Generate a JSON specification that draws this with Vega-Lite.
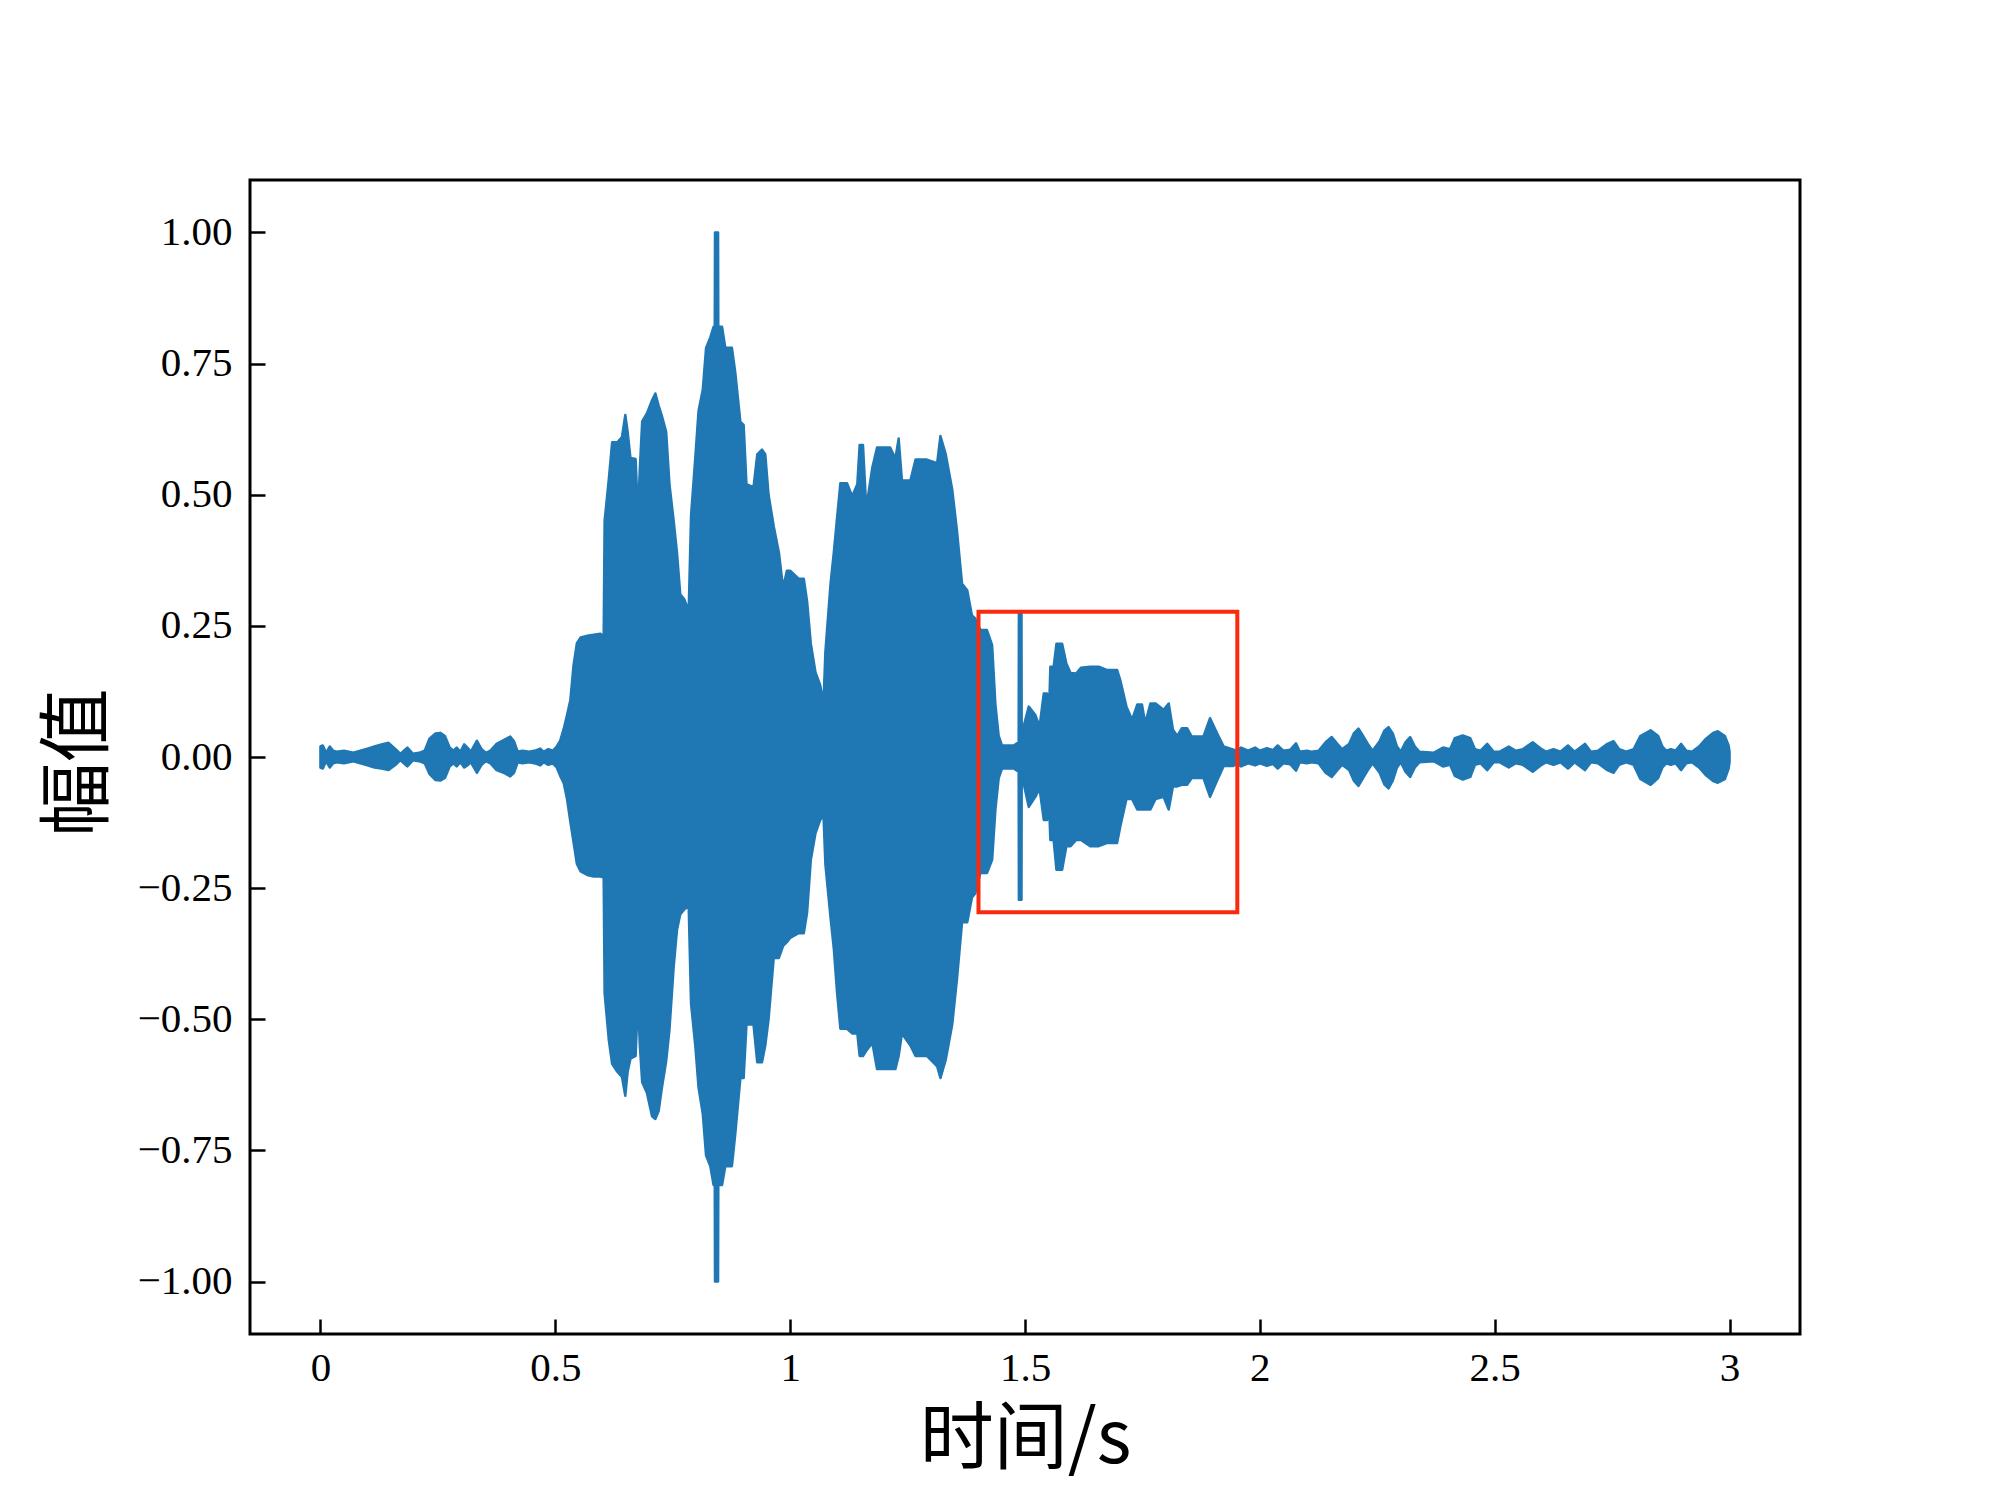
{
  "$schema": "https://vega.github.io/schema/vega-lite/v6.json",
  "autosize": {"type": "none"},
  "padding": {"left": 250, "top": 180, "right": 200, "bottom": 165},
  "width": 1550,
  "height": 1154,
  "background": "white",
  "config": {
    "view": {"stroke": "black", "strokeWidth": 3},
    "axis": {
      "domain": false,
      "grid": false,
      "tickColor": "black",
      "tickWidth": 2.5,
      "tickSize": -15,
      "labelFont": "Liberation Serif",
      "labelFontSize": 41,
      "labelColor": "black",
      "titleFont": "Noto Sans CJK SC",
      "titleFontSize": 74,
      "titleFontWeight": "normal",
      "titleColor": "black"
    }
  },
  "datasets": {
    "wave": [
      {"t": 0.000, "hi": 0.020, "lo": -0.020},
      {"t": 0.005, "hi": 0.022, "lo": -0.022},
      {"t": 0.012, "hi": 0.008, "lo": -0.008},
      {"t": 0.020, "hi": 0.020, "lo": -0.020},
      {"t": 0.027, "hi": 0.012, "lo": -0.012},
      {"t": 0.035, "hi": 0.010, "lo": -0.010},
      {"t": 0.050, "hi": 0.012, "lo": -0.012},
      {"t": 0.060, "hi": 0.010, "lo": -0.010},
      {"t": 0.070, "hi": 0.008, "lo": -0.008},
      {"t": 0.085, "hi": 0.012, "lo": -0.012},
      {"t": 0.100, "hi": 0.016, "lo": -0.016},
      {"t": 0.115, "hi": 0.020, "lo": -0.020},
      {"t": 0.130, "hi": 0.024, "lo": -0.022},
      {"t": 0.145, "hi": 0.027, "lo": -0.025},
      {"t": 0.160, "hi": 0.015, "lo": -0.015},
      {"t": 0.170, "hi": 0.006, "lo": -0.006},
      {"t": 0.185, "hi": 0.018, "lo": -0.018},
      {"t": 0.197, "hi": 0.006, "lo": -0.006},
      {"t": 0.210, "hi": 0.008, "lo": -0.008},
      {"t": 0.222, "hi": 0.012, "lo": -0.012},
      {"t": 0.232, "hi": 0.035, "lo": -0.032},
      {"t": 0.245, "hi": 0.045, "lo": -0.044},
      {"t": 0.255, "hi": 0.046, "lo": -0.045},
      {"t": 0.265, "hi": 0.040, "lo": -0.040},
      {"t": 0.275, "hi": 0.018, "lo": -0.018},
      {"t": 0.283, "hi": 0.012, "lo": -0.012},
      {"t": 0.290, "hi": 0.018, "lo": -0.018},
      {"t": 0.298, "hi": 0.010, "lo": -0.010},
      {"t": 0.306, "hi": 0.024, "lo": -0.020},
      {"t": 0.313, "hi": 0.018, "lo": -0.016},
      {"t": 0.320, "hi": 0.010, "lo": -0.010},
      {"t": 0.333, "hi": 0.031, "lo": -0.030},
      {"t": 0.343, "hi": 0.015, "lo": -0.015},
      {"t": 0.352, "hi": 0.008, "lo": -0.008},
      {"t": 0.362, "hi": 0.012, "lo": -0.012},
      {"t": 0.375, "hi": 0.025, "lo": -0.025},
      {"t": 0.390, "hi": 0.032, "lo": -0.030},
      {"t": 0.404, "hi": 0.039, "lo": -0.037},
      {"t": 0.412, "hi": 0.030, "lo": -0.030},
      {"t": 0.420, "hi": 0.010, "lo": -0.010},
      {"t": 0.430, "hi": 0.012, "lo": -0.012},
      {"t": 0.445, "hi": 0.010, "lo": -0.010},
      {"t": 0.460, "hi": 0.013, "lo": -0.013},
      {"t": 0.468, "hi": 0.016, "lo": -0.016},
      {"t": 0.475, "hi": 0.010, "lo": -0.010},
      {"t": 0.485, "hi": 0.015, "lo": -0.015},
      {"t": 0.495, "hi": 0.012, "lo": -0.012},
      {"t": 0.503, "hi": 0.020, "lo": -0.020},
      {"t": 0.510, "hi": 0.030, "lo": -0.035},
      {"t": 0.518, "hi": 0.054, "lo": -0.050},
      {"t": 0.525, "hi": 0.080, "lo": -0.080},
      {"t": 0.532, "hi": 0.108, "lo": -0.123},
      {"t": 0.539, "hi": 0.176, "lo": -0.163},
      {"t": 0.546, "hi": 0.217, "lo": -0.204},
      {"t": 0.554, "hi": 0.228, "lo": -0.218},
      {"t": 0.568, "hi": 0.231, "lo": -0.225},
      {"t": 0.582, "hi": 0.233, "lo": -0.228},
      {"t": 0.596, "hi": 0.235, "lo": -0.228},
      {"t": 0.603, "hi": 0.230, "lo": -0.230},
      {"t": 0.605, "hi": 0.450, "lo": -0.450},
      {"t": 0.614, "hi": 0.530, "lo": -0.540},
      {"t": 0.621, "hi": 0.600, "lo": -0.585},
      {"t": 0.632, "hi": 0.600, "lo": -0.600},
      {"t": 0.642, "hi": 0.610, "lo": -0.610},
      {"t": 0.649, "hi": 0.652, "lo": -0.646},
      {"t": 0.654, "hi": 0.620, "lo": -0.600},
      {"t": 0.660, "hi": 0.570, "lo": -0.575},
      {"t": 0.671, "hi": 0.568, "lo": -0.570},
      {"t": 0.676, "hi": 0.460, "lo": -0.460},
      {"t": 0.680, "hi": 0.550, "lo": -0.550},
      {"t": 0.685, "hi": 0.640, "lo": -0.620},
      {"t": 0.695, "hi": 0.655, "lo": -0.640},
      {"t": 0.706, "hi": 0.680, "lo": -0.685},
      {"t": 0.713, "hi": 0.693, "lo": -0.690},
      {"t": 0.720, "hi": 0.670, "lo": -0.675},
      {"t": 0.727, "hi": 0.650, "lo": -0.630},
      {"t": 0.736, "hi": 0.620, "lo": -0.580},
      {"t": 0.743, "hi": 0.520, "lo": -0.520},
      {"t": 0.752, "hi": 0.450, "lo": -0.400},
      {"t": 0.759, "hi": 0.390, "lo": -0.330},
      {"t": 0.766, "hi": 0.310, "lo": -0.300},
      {"t": 0.775, "hi": 0.300, "lo": -0.290},
      {"t": 0.784, "hi": 0.278, "lo": -0.285},
      {"t": 0.789, "hi": 0.460, "lo": -0.470},
      {"t": 0.798, "hi": 0.570, "lo": -0.550},
      {"t": 0.805, "hi": 0.660, "lo": -0.630},
      {"t": 0.814, "hi": 0.700, "lo": -0.680},
      {"t": 0.821, "hi": 0.780, "lo": -0.760},
      {"t": 0.830, "hi": 0.800, "lo": -0.780},
      {"t": 0.837, "hi": 0.820, "lo": -0.816},
      {"t": 0.8395, "hi": 0.820, "lo": -0.816},
      {"t": 0.8400, "hi": 1.000, "lo": -1.000},
      {"t": 0.8465, "hi": 1.000, "lo": -1.000},
      {"t": 0.8470, "hi": 0.820, "lo": -0.816},
      {"t": 0.855, "hi": 0.820, "lo": -0.816},
      {"t": 0.862, "hi": 0.780, "lo": -0.780},
      {"t": 0.876, "hi": 0.780, "lo": -0.780},
      {"t": 0.883, "hi": 0.734, "lo": -0.720},
      {"t": 0.894, "hi": 0.639, "lo": -0.612},
      {"t": 0.901, "hi": 0.633, "lo": -0.612},
      {"t": 0.907, "hi": 0.520, "lo": -0.510},
      {"t": 0.922, "hi": 0.514, "lo": -0.510},
      {"t": 0.930, "hi": 0.577, "lo": -0.582},
      {"t": 0.940, "hi": 0.586, "lo": -0.582},
      {"t": 0.947, "hi": 0.577, "lo": -0.550},
      {"t": 0.954, "hi": 0.500, "lo": -0.500},
      {"t": 0.965, "hi": 0.440, "lo": -0.383},
      {"t": 0.976, "hi": 0.390, "lo": -0.383},
      {"t": 0.985, "hi": 0.322, "lo": -0.360},
      {"t": 0.993, "hi": 0.355, "lo": -0.353},
      {"t": 1.000, "hi": 0.355, "lo": -0.345},
      {"t": 1.018, "hi": 0.340, "lo": -0.336},
      {"t": 1.029, "hi": 0.340, "lo": -0.336},
      {"t": 1.036, "hi": 0.297, "lo": -0.297},
      {"t": 1.044, "hi": 0.216, "lo": -0.196},
      {"t": 1.054, "hi": 0.161, "lo": -0.145},
      {"t": 1.064, "hi": 0.137, "lo": -0.120},
      {"t": 1.071, "hi": 0.102, "lo": -0.111},
      {"t": 1.075, "hi": 0.200, "lo": -0.204},
      {"t": 1.086, "hi": 0.330, "lo": -0.306},
      {"t": 1.093, "hi": 0.390, "lo": -0.366},
      {"t": 1.100, "hi": 0.457, "lo": -0.450},
      {"t": 1.107, "hi": 0.522, "lo": -0.518},
      {"t": 1.121, "hi": 0.522, "lo": -0.518},
      {"t": 1.132, "hi": 0.497, "lo": -0.527},
      {"t": 1.143, "hi": 0.520, "lo": -0.527},
      {"t": 1.148, "hi": 0.595, "lo": -0.570},
      {"t": 1.155, "hi": 0.595, "lo": -0.570},
      {"t": 1.162, "hi": 0.475, "lo": -0.560},
      {"t": 1.175, "hi": 0.552, "lo": -0.545},
      {"t": 1.185, "hi": 0.590, "lo": -0.595},
      {"t": 1.213, "hi": 0.590, "lo": -0.595},
      {"t": 1.224, "hi": 0.569, "lo": -0.595},
      {"t": 1.231, "hi": 0.607, "lo": -0.570},
      {"t": 1.238, "hi": 0.527, "lo": -0.527},
      {"t": 1.256, "hi": 0.527, "lo": -0.550},
      {"t": 1.267, "hi": 0.567, "lo": -0.570},
      {"t": 1.291, "hi": 0.567, "lo": -0.570},
      {"t": 1.313, "hi": 0.560, "lo": -0.590},
      {"t": 1.320, "hi": 0.612, "lo": -0.612},
      {"t": 1.331, "hi": 0.578, "lo": -0.578},
      {"t": 1.345, "hi": 0.510, "lo": -0.510},
      {"t": 1.355, "hi": 0.433, "lo": -0.425},
      {"t": 1.366, "hi": 0.330, "lo": -0.315},
      {"t": 1.377, "hi": 0.318, "lo": -0.315},
      {"t": 1.387, "hi": 0.270, "lo": -0.268},
      {"t": 1.394, "hi": 0.264, "lo": -0.260},
      {"t": 1.405, "hi": 0.242, "lo": -0.221},
      {"t": 1.419, "hi": 0.242, "lo": -0.221},
      {"t": 1.430, "hi": 0.213, "lo": -0.196},
      {"t": 1.437, "hi": 0.100, "lo": -0.100},
      {"t": 1.444, "hi": 0.040, "lo": -0.040},
      {"t": 1.451, "hi": 0.022, "lo": -0.022},
      {"t": 1.476, "hi": 0.022, "lo": -0.022},
      {"t": 1.483, "hi": 0.026, "lo": -0.026},
      {"t": 1.4865, "hi": 0.026, "lo": -0.026},
      {"t": 1.4870, "hi": 0.274, "lo": -0.272},
      {"t": 1.4925, "hi": 0.274, "lo": -0.272},
      {"t": 1.4930, "hi": 0.030, "lo": -0.030},
      {"t": 1.497, "hi": 0.058, "lo": -0.050},
      {"t": 1.508, "hi": 0.096, "lo": -0.095},
      {"t": 1.522, "hi": 0.080, "lo": -0.076},
      {"t": 1.531, "hi": 0.058, "lo": -0.060},
      {"t": 1.540, "hi": 0.121, "lo": -0.120},
      {"t": 1.547, "hi": 0.121, "lo": -0.120},
      {"t": 1.550, "hi": 0.050, "lo": -0.060},
      {"t": 1.554, "hi": 0.172, "lo": -0.158},
      {"t": 1.561, "hi": 0.172, "lo": -0.158},
      {"t": 1.567, "hi": 0.216, "lo": -0.215},
      {"t": 1.579, "hi": 0.216, "lo": -0.215},
      {"t": 1.588, "hi": 0.178, "lo": -0.170},
      {"t": 1.597, "hi": 0.160, "lo": -0.170},
      {"t": 1.609, "hi": 0.159, "lo": -0.158},
      {"t": 1.619, "hi": 0.170, "lo": -0.158},
      {"t": 1.639, "hi": 0.172, "lo": -0.170},
      {"t": 1.657, "hi": 0.172, "lo": -0.170},
      {"t": 1.674, "hi": 0.166, "lo": -0.164},
      {"t": 1.696, "hi": 0.166, "lo": -0.164},
      {"t": 1.703, "hi": 0.146, "lo": -0.132},
      {"t": 1.716, "hi": 0.096, "lo": -0.080},
      {"t": 1.728, "hi": 0.071, "lo": -0.080},
      {"t": 1.739, "hi": 0.100, "lo": -0.100},
      {"t": 1.749, "hi": 0.100, "lo": -0.100},
      {"t": 1.756, "hi": 0.064, "lo": -0.100},
      {"t": 1.767, "hi": 0.102, "lo": -0.100},
      {"t": 1.778, "hi": 0.102, "lo": -0.080},
      {"t": 1.795, "hi": 0.090, "lo": -0.076},
      {"t": 1.806, "hi": 0.102, "lo": -0.100},
      {"t": 1.815, "hi": 0.052, "lo": -0.056},
      {"t": 1.824, "hi": 0.040, "lo": -0.056},
      {"t": 1.834, "hi": 0.055, "lo": -0.053},
      {"t": 1.845, "hi": 0.055, "lo": -0.053},
      {"t": 1.855, "hi": 0.039, "lo": -0.040},
      {"t": 1.880, "hi": 0.039, "lo": -0.040},
      {"t": 1.894, "hi": 0.074, "lo": -0.076},
      {"t": 1.909, "hi": 0.045, "lo": -0.045},
      {"t": 1.923, "hi": 0.020, "lo": -0.017},
      {"t": 1.944, "hi": 0.014, "lo": -0.017},
      {"t": 1.950, "hi": 0.012, "lo": -0.012},
      {"t": 1.960, "hi": 0.018, "lo": -0.018},
      {"t": 1.975, "hi": 0.012, "lo": -0.012},
      {"t": 1.990, "hi": 0.018, "lo": -0.016},
      {"t": 2.000, "hi": 0.012, "lo": -0.012},
      {"t": 2.015, "hi": 0.017, "lo": -0.017},
      {"t": 2.028, "hi": 0.013, "lo": -0.013},
      {"t": 2.038, "hi": 0.022, "lo": -0.022},
      {"t": 2.050, "hi": 0.012, "lo": -0.012},
      {"t": 2.065, "hi": 0.014, "lo": -0.014},
      {"t": 2.077, "hi": 0.026, "lo": -0.026},
      {"t": 2.085, "hi": 0.010, "lo": -0.010},
      {"t": 2.100, "hi": 0.012, "lo": -0.012},
      {"t": 2.110, "hi": 0.010, "lo": -0.010},
      {"t": 2.125, "hi": 0.012, "lo": -0.012},
      {"t": 2.140, "hi": 0.028, "lo": -0.030},
      {"t": 2.153, "hi": 0.038, "lo": -0.038},
      {"t": 2.165, "hi": 0.025, "lo": -0.025},
      {"t": 2.175, "hi": 0.015, "lo": -0.015},
      {"t": 2.190, "hi": 0.025, "lo": -0.025},
      {"t": 2.200, "hi": 0.045, "lo": -0.045},
      {"t": 2.210, "hi": 0.054, "lo": -0.055},
      {"t": 2.220, "hi": 0.040, "lo": -0.040},
      {"t": 2.230, "hi": 0.025, "lo": -0.025},
      {"t": 2.240, "hi": 0.012, "lo": -0.012},
      {"t": 2.255, "hi": 0.030, "lo": -0.030},
      {"t": 2.265, "hi": 0.050, "lo": -0.052},
      {"t": 2.274, "hi": 0.057, "lo": -0.060},
      {"t": 2.283, "hi": 0.045, "lo": -0.045},
      {"t": 2.292, "hi": 0.020, "lo": -0.020},
      {"t": 2.300, "hi": 0.010, "lo": -0.010},
      {"t": 2.310, "hi": 0.028, "lo": -0.028},
      {"t": 2.320, "hi": 0.038, "lo": -0.038},
      {"t": 2.330, "hi": 0.020, "lo": -0.020},
      {"t": 2.340, "hi": 0.010, "lo": -0.010},
      {"t": 2.370, "hi": 0.008, "lo": -0.008},
      {"t": 2.390, "hi": 0.018, "lo": -0.018},
      {"t": 2.405, "hi": 0.015, "lo": -0.015},
      {"t": 2.415, "hi": 0.036, "lo": -0.036},
      {"t": 2.432, "hi": 0.041, "lo": -0.043},
      {"t": 2.448, "hi": 0.036, "lo": -0.038},
      {"t": 2.458, "hi": 0.015, "lo": -0.015},
      {"t": 2.470, "hi": 0.012, "lo": -0.012},
      {"t": 2.484, "hi": 0.025, "lo": -0.025},
      {"t": 2.498, "hi": 0.010, "lo": -0.010},
      {"t": 2.510, "hi": 0.010, "lo": -0.010},
      {"t": 2.530, "hi": 0.020, "lo": -0.020},
      {"t": 2.545, "hi": 0.012, "lo": -0.012},
      {"t": 2.560, "hi": 0.015, "lo": -0.015},
      {"t": 2.581, "hi": 0.028, "lo": -0.028},
      {"t": 2.600, "hi": 0.015, "lo": -0.015},
      {"t": 2.610, "hi": 0.010, "lo": -0.010},
      {"t": 2.625, "hi": 0.015, "lo": -0.015},
      {"t": 2.640, "hi": 0.010, "lo": -0.010},
      {"t": 2.656, "hi": 0.022, "lo": -0.022},
      {"t": 2.670, "hi": 0.010, "lo": -0.010},
      {"t": 2.692, "hi": 0.025, "lo": -0.025},
      {"t": 2.705, "hi": 0.010, "lo": -0.010},
      {"t": 2.720, "hi": 0.012, "lo": -0.012},
      {"t": 2.740, "hi": 0.025, "lo": -0.025},
      {"t": 2.753, "hi": 0.030, "lo": -0.030},
      {"t": 2.765, "hi": 0.015, "lo": -0.015},
      {"t": 2.780, "hi": 0.010, "lo": -0.010},
      {"t": 2.796, "hi": 0.015, "lo": -0.015},
      {"t": 2.810, "hi": 0.040, "lo": -0.042},
      {"t": 2.832, "hi": 0.051, "lo": -0.053},
      {"t": 2.848, "hi": 0.040, "lo": -0.040},
      {"t": 2.857, "hi": 0.020, "lo": -0.020},
      {"t": 2.865, "hi": 0.012, "lo": -0.012},
      {"t": 2.875, "hi": 0.015, "lo": -0.015},
      {"t": 2.885, "hi": 0.012, "lo": -0.012},
      {"t": 2.897, "hi": 0.025, "lo": -0.025},
      {"t": 2.908, "hi": 0.012, "lo": -0.012},
      {"t": 2.920, "hi": 0.010, "lo": -0.010},
      {"t": 2.935, "hi": 0.020, "lo": -0.020},
      {"t": 2.950, "hi": 0.035, "lo": -0.035},
      {"t": 2.965, "hi": 0.046, "lo": -0.046},
      {"t": 2.975, "hi": 0.049, "lo": -0.049},
      {"t": 2.990, "hi": 0.040, "lo": -0.042},
      {"t": 2.998, "hi": 0.022, "lo": -0.022},
      {"t": 3.000, "hi": 0.010, "lo": -0.010}
    ],
    "box": [
      {"t0": 1.401, "t1": 1.952, "a0": -0.296, "a1": 0.277}
    ]
  },
  "layer": [
    {
      "data": {"name": "wave"},
      "mark": {"type": "area", "interpolate": "linear", "color": "#1f77b4", "stroke": "#1f77b4", "strokeWidth": 2.5, "strokeJoin": "round", "opacity": 1},
      "encoding": {
        "x": {
          "field": "t", "type": "quantitative",
          "scale": {"domain": [-0.15, 3.15], "nice": false, "zero": false},
          "axis": {"values": [0, 0.5, 1, 1.5, 2, 2.5, 3], "format": ".1~f", "title": "时间/s", "labelPadding": 29, "titleBaseline": "middle", "titleY": 106, "titleX": 775}
        },
        "y": {
          "field": "hi", "type": "quantitative",
          "scale": {"domain": [-1.1, 1.1], "nice": false, "zero": false},
          "axis": {"values": [-1, -0.75, -0.5, -0.25, 0, 0.25, 0.5, 0.75, 1], "format": ".2f", "title": "幅值", "labelPadding": 33, "titleAngle": 270, "titleBaseline": "middle", "titleAlign": "center", "titleX": -171, "titleY": 582}
        },
        "y2": {"field": "lo"}
      }
    },
    {
      "data": {"name": "box"},
      "mark": {"type": "rect", "filled": false, "stroke": "#fa2a0e", "strokeWidth": 4},
      "encoding": {
        "x": {"field": "t0", "type": "quantitative"},
        "x2": {"field": "t1"},
        "y": {"field": "a0", "type": "quantitative"},
        "y2": {"field": "a1"}
      }
    }
  ]
}
